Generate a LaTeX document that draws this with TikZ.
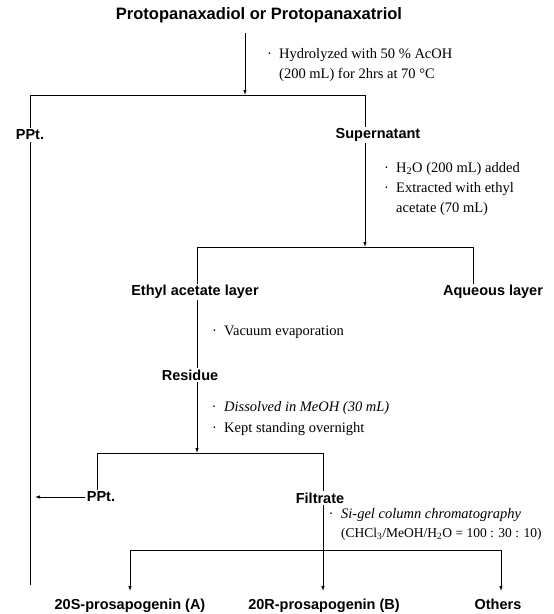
\documentclass[tikz,border=0pt]{standalone}
\usepackage{fontspec}
\setmainfont{Liberation Serif}
\newfontfamily\labelfont{Liberation Sans}
\usetikzlibrary{arrows.meta}
\newcommand{\bul}{\makebox[12pt][l]{·}}
\newcommand{\ind}{\hspace*{12pt}}
\tikzset{
  lbl/.style={font=\labelfont\bfseries\fontsize{14.5}{17}\selectfont, inner sep=1.5pt},
  ttl/.style={font=\labelfont\bfseries\fontsize{16.5}{19}\selectfont, inner sep=1pt},
  anno/.style={font=\fontsize{14.5}{17}\selectfont, anchor=west, inner sep=0pt},
  annoit/.style={anno, font=\itshape\fontsize{14.5}{17}\selectfont},
  annosm/.style={anno, font=\fontsize{13.5}{16}\selectfont},
  conn/.style={line width=0.8pt},
  arr/.style={conn, -{Latex[length=5pt,width=3.5pt]}},
}
\begin{document}
\begin{tikzpicture}[x=1pt,y=-1pt]
\useasboundingbox (0,0) rectangle (554,614);
% labels
\node[ttl] (title) at (259,15) {Protopanaxadiol or Protopanaxatriol};
\node[lbl] (ppt1) at (30,135) {PPt.};
\node[lbl] (sup) at (378,135) {Supernatant};
\node[lbl] (eth) at (195,292) {Ethyl acetate layer};
\node[lbl] (aq) at (493,292) {Aqueous layer};
\node[lbl] (res) at (190,375) {Residue};
\node[lbl] (ppt2) at (101,497) {PPt.};
\node[lbl] (fil) at (320,498) {Filtrate};
\node[lbl, anchor=base] (p20s) at (130,609) {20S-prosapogenin (A)};
\node[lbl, anchor=base] (p20r) at (324,609) {20R-prosapogenin (B)};
\node[lbl, anchor=base] (oth) at (498,609) {Others};
% annotations
\node[anno] (n1) at (267,55) {\bul Hydrolyzed with 50 \% AcOH};
\node[anno] (n2) at (267,75) {\ind (200 mL) for 2hrs at 70 °C};
\node[anno] (n3) at (384,169) {\bul H\textsubscript{2}O (200 mL) added};
\node[anno] (n4) at (384,189) {\bul Extracted with ethyl};
\node[anno] (n5) at (384,209) {\ind acetate (70 mL)};
\node[anno] (n6) at (212,332) {\bul Vacuum evaporation};
\node[annoit] (n7) at (212,408) {\bul Dissolved in MeOH (30 mL)};
\node[anno] (n8) at (212,429) {\bul Kept standing overnight};
\node[annoit] (n9) at (329,515) {\bul Si-gel column chromatography};
\node[annosm] (n10) at (329,534) {\ind (CHCl\textsubscript{3}/MeOH/H\textsubscript{2}O = 100 : 30 : 10)};
% junction coordinates
\coordinate (t0) at (245,33);
\coordinate (a1) at (245,95);
\coordinate (L1) at (30,95);
\coordinate (R1) at (365,95);
\coordinate (Lend) at (30,585);
\coordinate (a2) at (365,247);
\coordinate (E1) at (197,247);
\coordinate (A1) at (473,247);
\coordinate (a3) at (197,453);
\coordinate (P1) at (97,453);
\coordinate (F1) at (323,453);
\coordinate (pl) at (35,497);
\coordinate (S1) at (130,550);
\coordinate (O1) at (501,550);
\coordinate (bS) at (130,591);
\coordinate (bR) at (323,591);
\coordinate (bO) at (501,591);
% connectors
\draw[arr] (t0) -- (a1);
\draw[conn] (L1) -- (R1);
\draw[conn] (L1) -- (ppt1.north);
\draw[conn] (ppt1.south) -- (Lend);
\draw[conn] (R1) -- (R1 |- sup.north);
\draw[arr] (R1 |- sup.south) -- (a2);
\draw[conn] (E1) -- (A1);
\draw[conn] (A1) -- (A1 |- aq.north);
\draw[conn] (E1) -- (E1 |- eth.north);
\draw[conn] (E1 |- eth.south) -- (E1 |- res.north);
\draw[arr] (E1 |- res.south) -- (a3);
\draw[conn] (P1) -- (F1);
\draw[conn] (P1) -- (P1 |- ppt2.north);
\draw[arr] (ppt2.west) -- (pl);
\draw[conn] (F1) -- (F1 |- fil.north);
\draw[arr] (F1 |- fil.south) -- (bR);
\draw[conn] (S1) -- (O1);
\draw[arr] (S1) -- (bS);
\draw[arr] (O1) -- (bO);
\end{tikzpicture}
\end{document}
